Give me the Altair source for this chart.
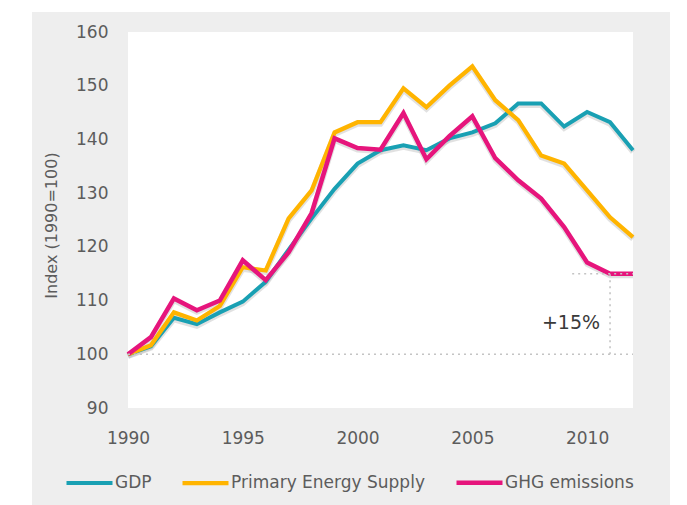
import altair as alt
import pandas as pd

# ---- data ----
years = list(range(1990, 2013))
gdp = [100, 101.5, 106.8, 105.6, 107.8, 109.8, 113.5, 119.5, 125.3, 130.8,
       135.5, 138.0, 138.9, 138.0, 140.2, 141.3, 143.0, 146.7, 146.7, 142.4,
       145.1, 143.2, 138.0]
pes = [100, 101.7, 107.8, 106.3, 109.0, 116.2, 115.6, 125.3, 130.5, 141.3,
       143.2, 143.2, 149.5, 146.0, 150.0, 153.6, 147.3, 143.6, 137.0, 135.5,
       130.5, 125.5, 121.8]
ghg = [100, 103.2, 110.4, 108.2, 110.0, 117.5, 113.8, 119.0, 126.3, 140.2,
       138.4, 138.1, 144.9, 136.3, 140.6, 144.3, 136.5, 132.4, 129.0, 123.7,
       117.1, 115.0, 115.0]

series_names = ["GDP", "Primary Energy Supply", "GHG emissions"]
series_colors = ["#19a0b3", "#ffb400", "#e6157c"]
series_widths = [4.0, 4.5, 5.5]

x_ticks = [1990, 1995, 2000, 2005, 2010]
y_ticks = [90, 100, 110, 120, 130, 140, 150, 160]

# dotted reference segments (data units)
ref_x = [1990, 2011, 2009.35]
ref_x2 = [2012, 2011, 2012]
ref_y = [100, 100, 115]
ref_y2 = [100, 115, 115]

note_text = ["+15%"]
note_x = [2009.3]
note_y = [105.8]

# ---- tables ----
rows = []
for name, vals in zip(series_names, [gdp, pes, ghg]):
    for yr, v in zip(years, vals):
        rows.append({"year": yr, "value": v, "series": name})
df = pd.DataFrame(rows)
ref_df = pd.DataFrame({"year": ref_x, "year2": ref_x2, "value": ref_y, "value2": ref_y2})
note_df = pd.DataFrame({"year": note_x, "value": note_y, "label": note_text})
one = pd.DataFrame({"a": [0]})

W, H = 505, 376
FONT = "DejaVu Sans"
GREY = "#5c5c5c"

xscale = alt.Scale(domain=[1990, 2012], nice=False, zero=False)
yscale = alt.Scale(domain=[90, 160], nice=False, zero=False)

x_axis = alt.Axis(values=x_ticks, format="d", title=None, grid=False,
                  domain=False, ticks=False, labelPadding=22, zindex=2,
                  labelFlush=False, labelOverlap=False,
                  labelFontSize=17, labelColor=GREY, labelFont=FONT)
y_axis = alt.Axis(values=y_ticks, title="Index (1990=100)", grid=False,
                  domain=False, ticks=False, labelPadding=20, zindex=2,
                  labelFlush=False, labelOverlap=False,
                  labelFontSize=17, labelColor=GREY, labelFont=FONT,
                  titleFont=FONT, titleFontSize=16, titleFontWeight="normal",
                  titleColor=GREY, titleX=-77, titleY=193,
                  titleAlign="center", titleBaseline="middle")

panel = alt.Chart(one).mark_rect(color="#eeeeee").encode(
    x=alt.value(-96), x2=alt.value(542), y=alt.value(-20), y2=alt.value(480)
)
plot_bg = alt.Chart(one).mark_rect(color="white").encode(
    x=alt.value(0), x2=alt.value(W), y=alt.value(0), y2=alt.value(H)
)

# soft drop shadow under the lines (about 2px lower)
shadow = alt.Chart(df).transform_calculate(
    shade="datum.value - 0.33"
).mark_line(color="#bdbdbd", opacity=0.45, strokeWidth=5.5).encode(
    x=alt.X("year:Q", scale=xscale, axis=x_axis),
    y=alt.Y("shade:Q", scale=yscale, axis=y_axis),
    detail="series:N",
)

lines = alt.Chart(df).mark_line(strokeJoin="miter").encode(
    x=alt.X("year:Q", scale=xscale, axis=x_axis),
    y=alt.Y("value:Q", scale=yscale, axis=y_axis),
    color=alt.Color("series:N", sort=series_names,
                    scale=alt.Scale(domain=series_names, range=series_colors),
                    legend=alt.Legend(title=None, orient="none", legendX=-64, legendY=425,
                                      direction="horizontal", columns=3,
                                      symbolType="stroke", symbolSize=2116,
                                      symbolStrokeWidth=5, labelFontSize=17,
                                      labelFont=FONT, labelColor=GREY, labelLimit=0,
                                      labelOffset=0, columnPadding=22)),
    strokeWidth=alt.StrokeWidth("series:N",
                                scale=alt.Scale(domain=series_names, range=series_widths),
                                legend=None),
)

refs = alt.Chart(ref_df).mark_rule(color="#c4c4c4", strokeWidth=1.6, strokeDash=[2, 4]).encode(
    x=alt.X("year:Q", scale=xscale, axis=x_axis),
    x2="year2:Q",
    y=alt.Y("value:Q", scale=yscale, axis=y_axis),
    y2="value2:Q",
)

note = alt.Chart(note_df).mark_text(fontSize=19, font=FONT, color="#3a3a3a",
                                    align="center", baseline="middle").encode(
    x=alt.X("year:Q", scale=xscale, axis=x_axis),
    y=alt.Y("value:Q", scale=yscale, axis=y_axis),
    text="label:N",
)

chart = alt.layer(panel, plot_bg, shadow, lines, refs, note).properties(
    width=W, height=H,
    autosize=alt.AutoSizeParams(type="none"),
    padding={"left": 120, "top": 24, "right": 37, "bottom": 97},
).configure(background="white").configure_view(stroke=None)

chart.save("out.html", embed_options={"renderer": "svg", "actions": False})
